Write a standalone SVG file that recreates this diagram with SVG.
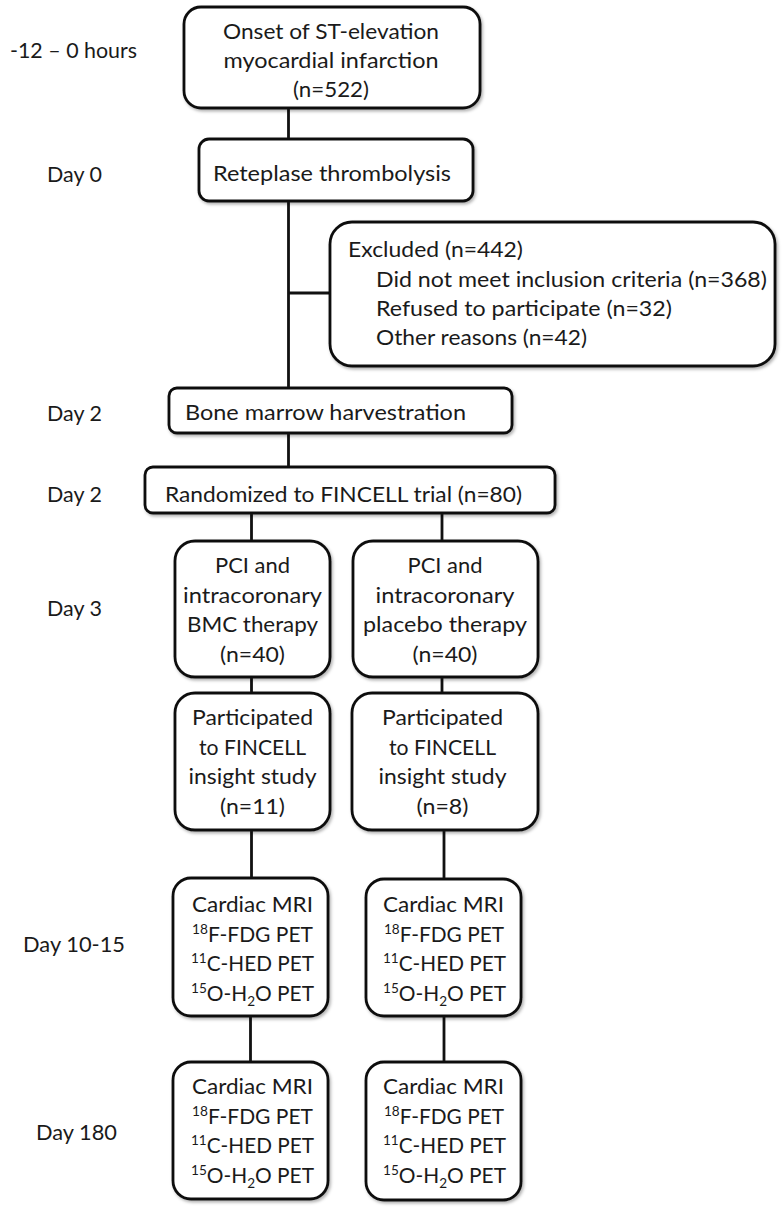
<svg xmlns="http://www.w3.org/2000/svg" width="784" height="1212" viewBox="0 0 784 1212">
<defs>
<filter id="sh" x="-10%" y="-10%" width="120%" height="130%">
<feDropShadow dx="1.5" dy="2" stdDeviation="1.5" flood-color="#000" flood-opacity="0.3"/>
</filter>
</defs>
<style>
.box{fill:#fff;stroke:#111;stroke-width:2.8;filter:url(#sh)}
.ln{stroke:#111;stroke-width:2.8;fill:none}
text{font-family:Lato,"Liberation Sans",sans-serif;font-size:21.5px;fill:#1a1a1a}
.m{text-anchor:middle}
.sup{font-size:14px}
</style>
<rect width="784" height="1212" fill="#fff"/>
<g id="connectors">
<path class="ln" d="M288.5 108V139M288.5 201V388M288.5 293H330M288.5 433V467M251.5 513V541M442 513V541M251.5 677V693M442 677V693M251.5 830V878M444 830V879M250.5 1016V1062M444 1016V1062"/>
</g>
<g id="labels">
<text x="10" y="58" textLength="127" lengthAdjust="spacingAndGlyphs">-12 – 0 hours</text>
<text x="47" y="182" textLength="55" lengthAdjust="spacingAndGlyphs">Day 0</text>
<text x="47" y="421" textLength="55" lengthAdjust="spacingAndGlyphs">Day 2</text>
<text x="47" y="502" textLength="55" lengthAdjust="spacingAndGlyphs">Day 2</text>
<text x="47" y="616" textLength="55" lengthAdjust="spacingAndGlyphs">Day 3</text>
<text x="23" y="952" textLength="102" lengthAdjust="spacingAndGlyphs">Day 10-15</text>
<text x="36" y="1140" textLength="81" lengthAdjust="spacingAndGlyphs">Day 180</text>
</g>
<g id="onset">
<rect class="box" x="184" y="7" width="296" height="101" rx="17"/>
<text class="m" x="331" y="39" textLength="216" lengthAdjust="spacingAndGlyphs">Onset of ST-elevation</text>
<text class="m" x="331" y="68" textLength="215" lengthAdjust="spacingAndGlyphs">myocardial infarction</text>
<text class="m" x="331" y="97" textLength="76" lengthAdjust="spacingAndGlyphs">(n=522)</text>
</g>
<g id="reteplase">
<rect class="box" x="199" y="139" width="274" height="62" rx="10"/>
<text x="213" y="181" textLength="238" lengthAdjust="spacingAndGlyphs">Reteplase thrombolysis</text>
</g>
<g id="excluded">
<rect class="box" x="330" y="222" width="445" height="144" rx="22"/>
<text x="348" y="257" textLength="175" lengthAdjust="spacingAndGlyphs">Excluded (n=442)</text>
<text x="376" y="287" textLength="391" lengthAdjust="spacingAndGlyphs">Did not meet inclusion criteria (n=368)</text>
<text x="376" y="316" textLength="296" lengthAdjust="spacingAndGlyphs">Refused to participate (n=32)</text>
<text x="376" y="345" textLength="211" lengthAdjust="spacingAndGlyphs">Other reasons (n=42)</text>
</g>
<g id="bonemarrow">
<rect class="box" x="169" y="388" width="343" height="45" rx="8"/>
<text x="185" y="420" textLength="281" lengthAdjust="spacingAndGlyphs">Bone marrow harvestration</text>
</g>
<g id="randomized">
<rect class="box" x="145" y="467" width="410" height="46" rx="8"/>
<text x="165" y="502" textLength="357" lengthAdjust="spacingAndGlyphs">Randomized to FINCELL trial (n=80)</text>
</g>
<g id="pci-bmc">
<rect class="box" x="175" y="541" width="155" height="136" rx="20"/>
<text class="m" x="252.5" y="573" textLength="75" lengthAdjust="spacingAndGlyphs">PCI and</text>
<text class="m" x="252.5" y="603" textLength="139" lengthAdjust="spacingAndGlyphs">intracoronary</text>
<text class="m" x="252.5" y="632" textLength="131" lengthAdjust="spacingAndGlyphs">BMC therapy</text>
<text class="m" x="252.5" y="662" textLength="65" lengthAdjust="spacingAndGlyphs">(n=40)</text>
</g>
<g id="pci-placebo">
<rect class="box" x="353" y="541" width="185" height="136" rx="20"/>
<text class="m" x="445" y="573" textLength="75" lengthAdjust="spacingAndGlyphs">PCI and</text>
<text class="m" x="445" y="603" textLength="139" lengthAdjust="spacingAndGlyphs">intracoronary</text>
<text class="m" x="445" y="632" textLength="164" lengthAdjust="spacingAndGlyphs">placebo therapy</text>
<text class="m" x="445" y="662" textLength="65" lengthAdjust="spacingAndGlyphs">(n=40)</text>
</g>
<g id="insight-bmc">
<rect class="box" x="175" y="693" width="155" height="137" rx="20"/>
<text class="m" x="252.5" y="725" textLength="121" lengthAdjust="spacingAndGlyphs">Participated</text>
<text class="m" x="252.5" y="754.5" textLength="107" lengthAdjust="spacingAndGlyphs">to FINCELL</text>
<text class="m" x="252.5" y="784" textLength="128" lengthAdjust="spacingAndGlyphs">insight study</text>
<text class="m" x="252.5" y="813.5" textLength="65" lengthAdjust="spacingAndGlyphs">(n=11)</text>
</g>
<g id="insight-placebo">
<rect class="box" x="352" y="693" width="186" height="137" rx="20"/>
<text class="m" x="442.5" y="725" textLength="121" lengthAdjust="spacingAndGlyphs">Participated</text>
<text class="m" x="442.5" y="754.5" textLength="107" lengthAdjust="spacingAndGlyphs">to FINCELL</text>
<text class="m" x="442.5" y="784" textLength="128" lengthAdjust="spacingAndGlyphs">insight study</text>
<text class="m" x="442.5" y="813.5" textLength="52" lengthAdjust="spacingAndGlyphs">(n=8)</text>
</g>
<g id="imaging-bmc-day10">
<rect class="box" x="173" y="878" width="155" height="138" rx="18"/>
<text x="192" y="912" textLength="121" lengthAdjust="spacingAndGlyphs">Cardiac MRI</text>
<text x="192" y="941.5" textLength="121" lengthAdjust="spacingAndGlyphs"><tspan class="sup" dy="-8">18</tspan><tspan dy="8">F-FDG PET</tspan></text>
<text x="191" y="971" textLength="123" lengthAdjust="spacingAndGlyphs"><tspan class="sup" dy="-8">11</tspan><tspan dy="8">C-HED PET</tspan></text>
<text x="191" y="1000.5" textLength="123" lengthAdjust="spacingAndGlyphs"><tspan class="sup" dy="-8">15</tspan><tspan dy="8">O-H</tspan><tspan class="sup" dy="5">2</tspan><tspan dy="-5">O PET</tspan></text>
</g>
<g id="imaging-placebo-day10">
<rect class="box" x="366" y="879" width="155" height="137" rx="18"/>
<text x="383" y="912" textLength="121" lengthAdjust="spacingAndGlyphs">Cardiac MRI</text>
<text x="384" y="941.5" textLength="120" lengthAdjust="spacingAndGlyphs"><tspan class="sup" dy="-8">18</tspan><tspan dy="8">F-FDG PET</tspan></text>
<text x="383" y="971" textLength="123" lengthAdjust="spacingAndGlyphs"><tspan class="sup" dy="-8">11</tspan><tspan dy="8">C-HED PET</tspan></text>
<text x="383" y="1000.5" textLength="123" lengthAdjust="spacingAndGlyphs"><tspan class="sup" dy="-8">15</tspan><tspan dy="8">O-H</tspan><tspan class="sup" dy="5">2</tspan><tspan dy="-5">O PET</tspan></text>
</g>
<g id="imaging-bmc-day180">
<rect class="box" x="173" y="1062" width="155" height="137" rx="18"/>
<text x="192" y="1094" textLength="121" lengthAdjust="spacingAndGlyphs">Cardiac MRI</text>
<text x="192" y="1123.5" textLength="121" lengthAdjust="spacingAndGlyphs"><tspan class="sup" dy="-8">18</tspan><tspan dy="8">F-FDG PET</tspan></text>
<text x="191" y="1153" textLength="123" lengthAdjust="spacingAndGlyphs"><tspan class="sup" dy="-8">11</tspan><tspan dy="8">C-HED PET</tspan></text>
<text x="191" y="1182.5" textLength="123" lengthAdjust="spacingAndGlyphs"><tspan class="sup" dy="-8">15</tspan><tspan dy="8">O-H</tspan><tspan class="sup" dy="5">2</tspan><tspan dy="-5">O PET</tspan></text>
</g>
<g id="imaging-placebo-day180">
<rect class="box" x="366" y="1062" width="155" height="138" rx="18"/>
<text x="383" y="1094" textLength="121" lengthAdjust="spacingAndGlyphs">Cardiac MRI</text>
<text x="384" y="1123.5" textLength="120" lengthAdjust="spacingAndGlyphs"><tspan class="sup" dy="-8">18</tspan><tspan dy="8">F-FDG PET</tspan></text>
<text x="383" y="1153" textLength="123" lengthAdjust="spacingAndGlyphs"><tspan class="sup" dy="-8">11</tspan><tspan dy="8">C-HED PET</tspan></text>
<text x="383" y="1182.5" textLength="123" lengthAdjust="spacingAndGlyphs"><tspan class="sup" dy="-8">15</tspan><tspan dy="8">O-H</tspan><tspan class="sup" dy="5">2</tspan><tspan dy="-5">O PET</tspan></text>
</g>
</svg>
